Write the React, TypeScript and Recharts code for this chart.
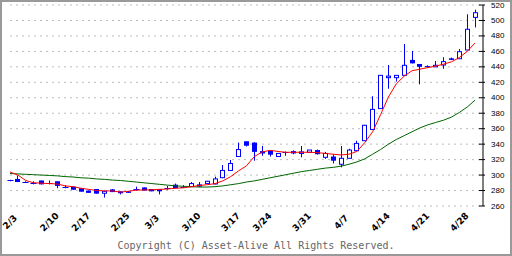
import { ComposedChart, Bar, Line, XAxis, YAxis, CartesianGrid } from 'recharts';

// daily candles, index 0 = 2/3
const OPEN = [
  293, 295, 291, 290, 293, 290, 292, 284.5, 285, 283,
  280, 282, 276.5, 281.5, 279, 279, 282, 284, 282, 282,
  283.5, 287.6, 285, 285, 288, 289, 288.5, 296.6, 306, 324,
  343.7, 342, 331, 331.5, 324, 329.5, 331, 328, 329.5, 332.4,
  323, 324, 314, 321.7, 331.5, 344.5, 359, 386, 426, 426,
  429, 449, 443.7, 441, 440, 442.4, 451, 450.5, 461.8, 504,
];
const HIGH = [
  294, 299, 292, 292, 293, 293, 292, 287, 285, 283,
  280, 282, 280, 282, 279, 279.5, 285, 284, 282, 282,
  286, 289, 287, 291, 291, 292.5, 298, 313, 319.5, 342,
  343.7, 342.4, 337.6, 331.5, 328, 330.5, 332, 337.6, 332.4, 333,
  330, 327, 337.6, 334, 344.4, 365, 402, 429, 442.4, 429,
  469.6, 460.5, 443.7, 442, 447.6, 452.5, 452, 463, 508, 514,
];
const LOW = [
  292, 291, 290, 288, 288, 288, 283, 283, 281, 278.5,
  277, 276, 271, 278, 275, 277, 280, 280, 279, 275,
  281, 283, 284, 285, 285, 289, 288, 296, 306, 324,
  337, 318.6, 325, 324, 324, 325, 327, 323, 329.5, 326.5,
  321, 315, 310, 321.7, 331.5, 344, 359, 386, 411.7, 421,
  429, 444.5, 417.4, 439, 440, 437.4, 449, 450.5, 461.8, 491,
];
const CLOSE = [
  293, 291, 291, 290, 288, 290, 286, 284.5, 281, 278.5,
  277, 276, 279, 278, 276.5, 277, 282.5, 280, 279, 279,
  283.5, 283, 285, 289, 285, 292, 295, 306, 315, 333,
  338, 330, 328, 326.4, 328, 329.5, 328, 330, 332.4, 327,
  328, 318.6, 321.7, 332.4, 341, 364.4, 385, 429, 428, 429,
  442, 444.5, 440, 440, 442, 446.7, 449, 459.6, 488.6, 510,
];
// moving averages (red = short, green = long)
const MA_SHORT = [
  304, 300, 293, 290, 289.5, 289, 288.5, 286, 285, 283,
  281.5, 280, 279.5, 279.5, 278, 279, 280.5, 280.7, 281, 281.5,
  282, 283, 283.5, 285, 286.5, 287.5, 289, 292.5, 298, 305.5,
  312, 324, 330, 332, 330.5, 329.5, 329.5, 329.5, 329.5, 329,
  328, 327, 326, 327, 330.5, 342, 356, 378, 401, 418,
  428, 435, 437, 439, 441, 443.5, 446.5, 452, 460, 471,
];
const MA_LONG = [
  302, 301.5, 301, 300.5, 300, 299.5, 299, 298, 297.5, 296.5,
  296, 295, 294.5, 293.5, 293, 292, 291, 290, 289, 288,
  287, 286, 285.5, 285, 284.5, 284.5, 285, 286, 287.5, 289,
  291, 292.5, 294.5, 296.5, 298.5, 300.5, 302.5, 304.5, 306, 307.5,
  309, 310, 311.5, 314, 317, 321, 327, 333, 340, 346,
  351, 356, 361, 365, 368, 371, 375, 381, 388, 397,
];

const WEEK_TICKS = [0, 5, 10, 15, 20, 25, 30, 35, 40, 45, 50, 55, 60];
const DATE_POS = [0, 5, 9, 14, 18, 23, 28, 32, 37, 42, 47, 52, 57];
const DATE_LABELS = ['2/3', '2/10', '2/17', '2/25', '3/3', '3/10', '3/17', '3/24', '3/31', '4/7', '4/14', '4/21', '4/28'];
const PRICE_TICKS = [260, 280, 300, 320, 340, 360, 380, 400, 420, 440, 460, 480, 500, 520];

const BLUE = '#0000ff';

const rows = OPEN.map((o, i) => ({
  i,
  open: o,
  high: HIGH[i],
  low: LOW[i],
  close: CLOSE[i],
  range: [LOW[i], HIGH[i]],
  maShort: MA_SHORT[i],
  maLong: MA_LONG[i],
}));

function Candle(props: any) {
  const { x, y, width, height, payload } = props;
  const { open, close, high, low } = payload;
  const cx = Math.round(x + width / 2) + 0.5;
  const span = high - low;
  const py = (v: number) => (span === 0 ? y : y + ((high - v) / span) * height);
  const top = py(Math.max(open, close));
  const bot = py(Math.min(open, close));
  let body;
  if (Math.abs(close - open) < 0.8) {
    const my = Math.round((top + bot) / 2) + 0.5;
    body = <line x1={cx - 3} x2={cx + 3} y1={my} y2={my} stroke={BLUE} />;
  } else if (close > open) {
    body = <rect x={cx - 2} y={top} width={4} height={bot - top} fill="#fff" stroke={BLUE} />;
  } else {
    body = <rect x={cx - 2.5} y={top} width={5} height={Math.max(bot - top, 1)} fill={BLUE} />;
  }
  return (
    <g>
      <line x1={cx} x2={cx} y1={y} y2={y + height} stroke={BLUE} />
      {body}
    </g>
  );
}

const WeekTick = ({ x, y }: any) => (
  <line x1={x} x2={x} y1={y - 2} y2={y + 4} stroke="#000" />
);

const DateTick = ({ x, y, index }: any) => (
  <text
    transform={`translate(${x},${y + 16}) rotate(-45)`}
    textAnchor="middle"
    dominantBaseline="central"
    fontSize={9}
    fontWeight="bold"
    fontFamily="DejaVu Sans"
    fill="#000"
  >
    {DATE_LABELS[index]}
  </text>
);

const PriceTick = ({ x, y, payload }: any) => (
  <g>
    <line x1={x - 4} x2={x + 2} y1={y} y2={y} stroke="#000" />
    <text x={x + 8} y={y} dominantBaseline="central" fontSize={8} fontFamily="Liberation Sans" fill="#000">
      {payload.value}
    </text>
  </g>
);

export default function App() {
  return (
    <div style={{ position: 'absolute', left: 0, top: 0, width: 512, height: 256, background: '#fff' }}>
      <ComposedChart
        width={512}
        height={256}
        data={rows}
        margin={{ top: 5, right: 0, left: 10, bottom: 0 }}
      >
        <CartesianGrid vertical={false} stroke="#bbbbbb" strokeDasharray="2 4" />
        <XAxis
          dataKey="i"
          type="number"
          domain={[0, 60]}
          ticks={WEEK_TICKS}
          interval={0}
          height={0}
          tickSize={0}
          tickMargin={0}
          tickLine={false}
          tick={<WeekTick />}
          axisLine={{ stroke: '#000' }}
        />
        <XAxis
          xAxisId="lbl"
          dataKey="i"
          type="number"
          domain={[0, 60]}
          ticks={DATE_POS}
          interval={0}
          height={50}
          tickSize={0}
          tickMargin={0}
          tickLine={false}
          axisLine={false}
          tick={<DateTick />}
        />
        <YAxis
          orientation="right"
          domain={[260, 520]}
          ticks={PRICE_TICKS}
          interval={0}
          width={29}
          tickSize={0}
          tickMargin={0}
          tickLine={false}
          tick={<PriceTick />}
          axisLine={{ stroke: '#000' }}
        />
        <YAxis
          yAxisId="l"
          orientation="left"
          domain={[260, 520]}
          width={0}
          tick={false}
          tickLine={false}
          axisLine={{ stroke: '#000' }}
        />
        <Bar dataKey="range" barSize={5} shape={<Candle />} isAnimationActive={false} />
        <Line dataKey="maLong" type="linear" stroke="#006400" strokeWidth={1} dot={false} isAnimationActive={false} />
        <Line dataKey="maShort" type="linear" stroke="#ff0000" strokeWidth={1} dot={false} isAnimationActive={false} />
      </ComposedChart>
      <div
        style={{
          position: 'absolute',
          left: 0,
          top: 240,
          width: 512,
          textAlign: 'center',
          fontFamily: 'DejaVu Sans Mono',
          fontSize: 10,
          lineHeight: '12px',
          color: '#666',
        }}
      >
        Copyright (C) Asset-Alive All Rights Reserved.
      </div>
      <div
        style={{
          position: 'absolute',
          left: 0,
          top: 0,
          width: 512,
          height: 256,
          boxSizing: 'border-box',
          border: '2px solid #999',
          pointerEvents: 'none',
        }}
      />
    </div>
  );
}
